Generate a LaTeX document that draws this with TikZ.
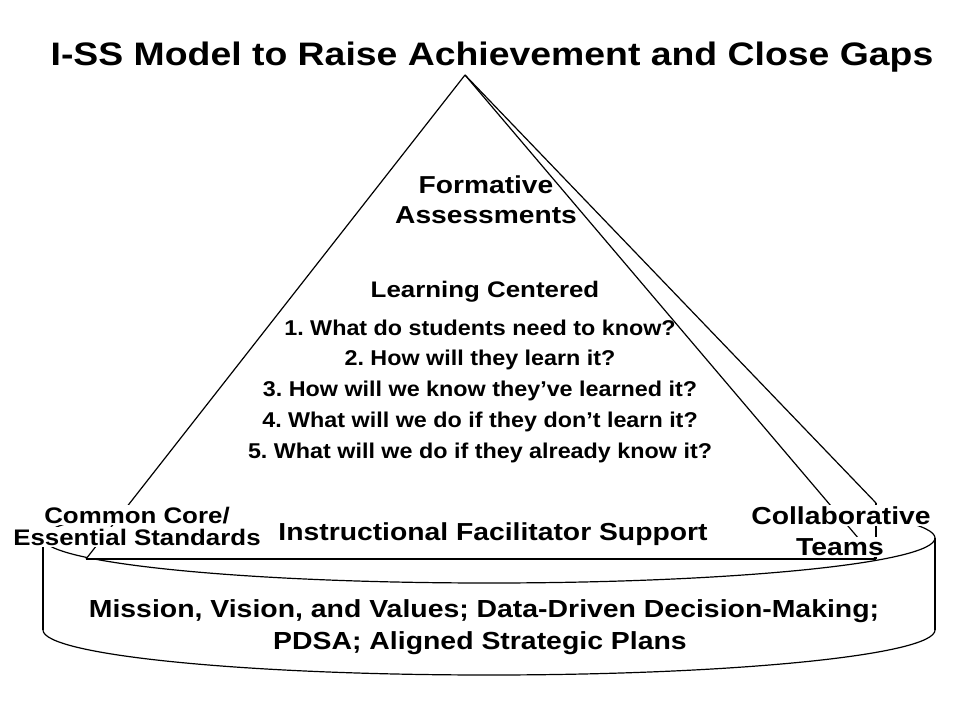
\documentclass[tikz,border=0pt]{standalone}
\usepackage{fontspec}
\setmainfont{Liberation Sans}[FakeStretch=1.15]
\newfontfamily\qfamily{Liberation Sans}[FakeStretch=1.09]
\frenchspacing
\begin{document}
\begin{tikzpicture}[x=1pt,y=-1pt,
  edge/.style={draw=black, line width=1.2pt, line join=round},
  txt/.style={font=\bfseries, inner sep=0pt, anchor=base, text=black},
  ttl/.style={txt, font=\bfseries\fontsize{32.5}{39}\selectfont},
  big/.style={txt, font=\bfseries\fontsize{24.5}{30}\selectfont},
  mid/.style={txt, font=\bfseries\fontsize{22.5}{27}\selectfont},
  qst/.style={txt, font=\qfamily\bfseries\fontsize{21.4}{25}\selectfont},
  ifs/.style={txt, font=\bfseries\fontsize{24.6}{29}\selectfont},
  base/.style={txt, font=\bfseries\fontsize{24.7}{29}\selectfont},
  side/.style={txt, font=\bfseries\fontsize{22.5}{27}\selectfont, fill=white, inner sep=1.5pt},
  sideb/.style={txt, font=\bfseries\fontsize{24.6}{29}\selectfont, fill=white, inner sep=1.5pt}]
\useasboundingbox[fill=white] (0,0) rectangle (960,720);

% cylinder (base)
\coordinate (cylTL) at (43,538);
\coordinate (cylBL) at (43,630);
\coordinate (cylTR) at (935,538);
\coordinate (cylBR) at (935,630);
\coordinate (cylC)  at (489,538);
\draw[edge] (cylTL) -- (cylBL);
\draw[edge] (cylTR) -- (cylBR);
\draw[edge] (cylBL) arc[start angle=180, end angle=360, x radius=446pt, y radius=45pt];
\draw[edge] (cylC) ellipse[x radius=446pt, y radius=45pt];

% pyramid
\coordinate (apex) at (465,75);
\coordinate (pL) at (86,559);
\coordinate (pR) at (876,559);
\coordinate (pB) at (876,503);
\fill[white] (apex) -- (pL) -- (pR) -- (pB) -- cycle;
\draw[edge] (apex) -- (pL);
\draw[edge] (pL) -- (pR);
\draw[edge] (apex) -- (pR);
\draw[edge] (apex) -- (pB);
\draw[edge] (pB) -- (pR);

% texts
\node[ttl] (title) at (492,65) {I-SS Model to Raise Achievement and Close Gaps};
\node[big] (form) at (486,193) {Formative};
\node[big] (assess) at (486,223) {Assessments};
\node[mid] (lc) at (485,297) {Learning Centered};
\node[qst] (q1) at (480,335) {1. What do students need to know?};
\node[qst] (q2) at (480,365) {2. How will they learn it?};
\node[qst] (q3) at (480,396) {3. How will we know they’ve learned it?};
\node[qst] (q4) at (480,427) {4. What will we do if they don’t learn it?};
\node[qst] (q5) at (480,458) {5. What will we do if they already know it?};
\node[ifs] (ifsup) at (493,540) {Instructional Facilitator Support};
\node[side] (cc1) at (137,523) {Common Core/};
\node[side] (cc2) at (137,545) {Essential Standards};
\node[sideb] (ct1) at (841,524) {Collaborative};
\node[sideb] (ct2) at (840,555) {Teams};
\node[base] (b1) at (484,617) {Mission, Vision, and Values; Data-Driven Decision-Making;};
\node[base] (b2) at (480,649) {PDSA; Aligned Strategic Plans};
\end{tikzpicture}
\end{document}
